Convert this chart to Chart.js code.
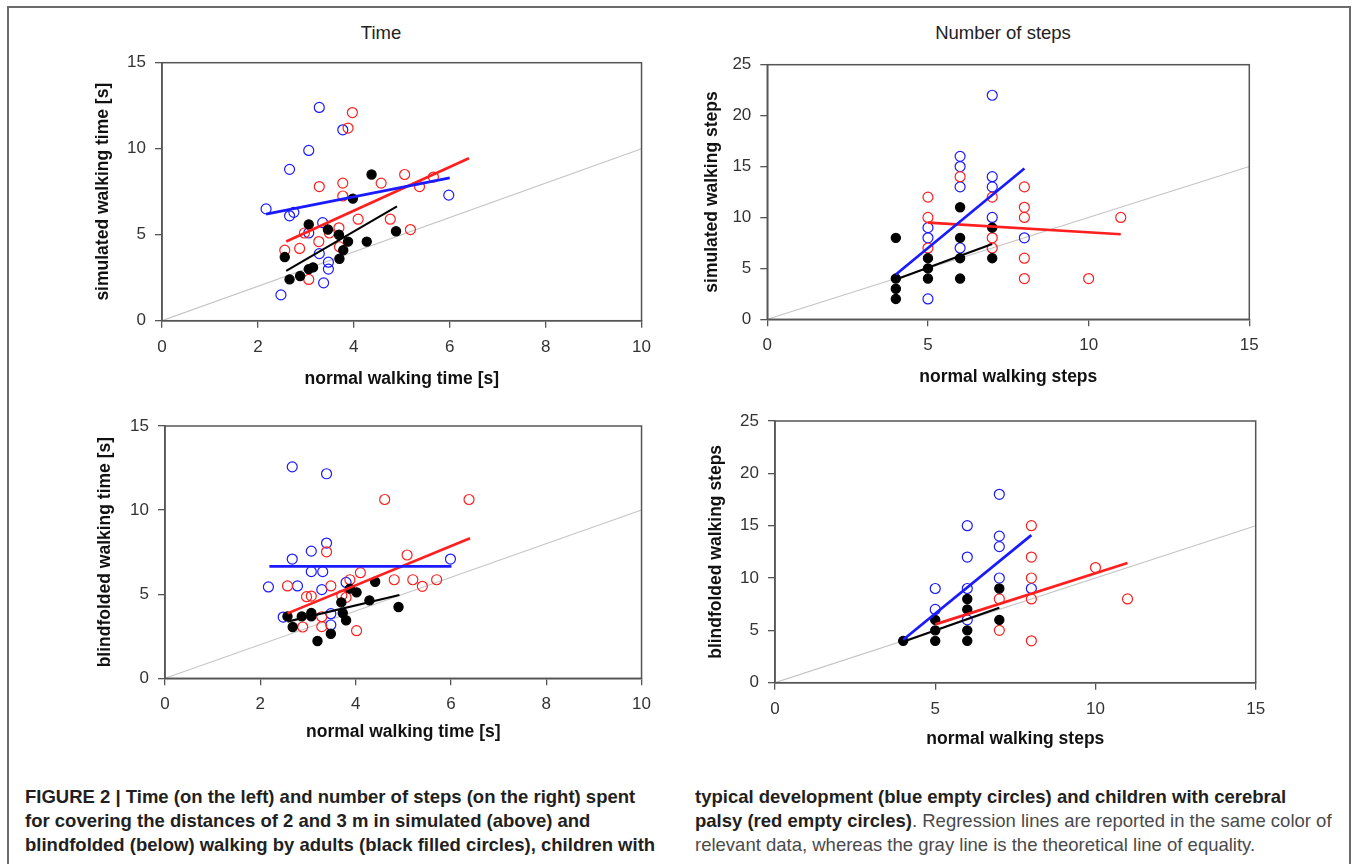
<!DOCTYPE html>
<html>
<head>
<meta charset="utf-8">
<script src="https://cdn.jsdelivr.net/npm/chart.js@4.4.1/dist/chart.umd.min.js"></script>
<style>
html, body { margin: 0; padding: 0; background: #fff; width: 1356px; height: 864px; overflow: hidden; font-family: "Liberation Sans", Arial, sans-serif; }
#frame { position: absolute; left: 7px; top: 6px; width: 1340px; height: 900px; border: 2px solid #6b6b6b; }
canvas { position: absolute; }
.ptitle { position: absolute; top: 23px; font-size: 18.5px; line-height: 20px; color: #222; transform: translateX(-50%); white-space: nowrap; }
.cap { position: absolute; top: 785px; font-size: 18.5px; line-height: 24px; white-space: nowrap; color: #4a4a4a; }
.cap b { color: #231f20; }
</style>
</head>
<body>
<div id="frame"></div>
<div class="ptitle" style="left:381px">Time</div>
<div class="ptitle" style="left:1003px">Number of steps</div>

<canvas id="simTime"></canvas>
<canvas id="simSteps"></canvas>
<canvas id="blindTime"></canvas>
<canvas id="blindSteps"></canvas>

<div class="cap" style="left:25px"><b>FIGURE 2 | Time (on the left) and number of steps (on the right) spent</b><br><b>for covering the distances of 2 and 3 m in simulated (above) and</b><br><b>blindfolded (below) walking by adults (black filled circles), children with</b></div>
<div class="cap" style="left:695px"><b>typical development (blue empty circles) and children with cerebral</b><br><b>palsy (red empty circles)</b>. Regression lines are reported in the same color of<br>relevant data, whereas the gray line is the theoretical line of equality.</div>

<script>
// tick labels
const timeTicksX = [0, 2, 4, 6, 8, 10];
const timeTicksY = [0, 5, 10, 15];
const stepTicksX = [0, 5, 10, 15];
const stepTicksY = [0, 5, 10, 15, 20, 25];

// line of equality
const equalTime = [[0, 0], [10, 10]];
const equalSteps = [[0, 0], [15, 15]];

// simulated walking time [s]: [normal, simulated]
const simTimeAdults = [[4.37, 8.5], [3.98, 7.1], [3.06, 5.6], [3.46, 5.3], [3.69, 5.0], [3.88, 4.6], [4.27, 4.6], [4.88, 5.2],
  [3.78, 4.1], [3.70, 3.6], [2.56, 3.7], [3.06, 3.0], [3.15, 3.1], [2.88, 2.6], [2.66, 2.4]];
const simTimeTD = [[3.28, 12.4], [3.77, 11.1], [3.06, 9.9], [2.66, 8.8], [2.17, 6.5], [2.66, 6.1], [2.75, 6.3], [5.98, 7.3],
  [3.35, 5.7], [3.06, 5.1], [3.28, 3.9], [3.47, 3.4], [3.47, 3.0], [3.37, 2.2], [2.48, 1.5]];
const simTimeCP = [[3.97, 12.1], [3.88, 11.2], [3.28, 7.8], [3.77, 8.0], [3.77, 7.25], [4.57, 8.0], [5.06, 8.5], [5.66, 8.35],
  [5.37, 7.8], [4.09, 5.9], [4.76, 5.9], [5.18, 5.3], [3.69, 5.4], [3.49, 5.1], [2.97, 5.1], [3.27, 4.6], [2.87, 4.2],
  [2.56, 4.1], [3.06, 2.4], [3.70, 4.3]];
const simTimeAdultsFit = [[2.59, 2.9], [4.9, 6.65]];
const simTimeTDFit = [[2.17, 6.2], [6.0, 8.3]];
const simTimeCPFit = [[2.59, 4.6], [6.4, 9.45]];

// simulated walking steps
const simStepsAdults = [[4, 8], [4, 4], [4, 3], [4, 2], [5, 6], [5, 5], [5, 4], [6, 11], [6, 8], [6, 6], [6, 4], [7, 9], [7, 6]];
const simStepsTD = [[7, 22], [6, 16], [6, 15], [6, 13], [7, 14], [7, 13], [7, 10], [5, 9], [5, 8], [6, 7], [8, 8], [5, 2]];
const simStepsCP = [[5, 12], [5, 10], [5, 7], [6, 14], [7, 12], [7, 8], [7, 7], [8, 13], [8, 11], [8, 10], [8, 6], [8, 4],
  [10, 4], [11, 10]];
const simStepsAdultsFit = [[4, 3.9], [7, 7.4]];
const simStepsTDFit = [[4, 4.4], [8, 14.8]];
const simStepsCPFit = [[5, 9.5], [11, 8.35]];

// blindfolded walking time [s]
const blindTimeAdults = [[4.41, 5.74], [4.02, 5.11], [3.88, 5.33], [4.29, 4.63], [3.70, 4.51], [4.90, 4.24], [2.57, 3.68],
  [2.87, 3.68], [3.07, 3.88], [3.07, 3.68], [3.73, 3.88], [3.80, 3.45], [2.68, 3.05], [3.48, 2.65], [3.20, 2.22]];
const blindTimeTD = [[2.67, 12.57], [3.39, 12.16], [3.39, 8.04], [3.07, 7.56], [2.67, 7.09], [5.99, 7.09], [3.07, 6.34],
  [3.31, 6.34], [2.17, 5.43], [2.78, 5.49], [3.29, 5.27], [3.80, 5.70], [2.48, 3.64], [3.48, 3.84], [3.48, 3.17]];
const blindTimeCP = [[4.61, 10.63], [6.38, 10.63], [3.39, 7.52], [5.08, 7.33], [4.10, 6.28], [3.88, 5.86], [4.81, 5.86],
  [5.20, 5.86], [5.70, 5.86], [5.40, 5.47], [2.57, 5.49], [3.48, 5.49], [2.97, 4.85], [3.07, 4.89], [3.71, 4.93],
  [3.80, 4.81], [3.29, 3.66], [2.89, 3.05], [3.29, 3.07], [4.02, 2.83]];
const blindTimeAdultsFit = [[2.57, 3.37], [4.92, 4.95]];
const blindTimeTDFit = [[2.19, 6.65], [6.01, 6.65]];
const blindTimeCPFit = [[2.57, 3.86], [6.4, 8.32]];

// blindfolded walking steps
const blindStepsAdults = [[4, 4], [5, 6], [5, 5], [5, 4], [6, 8], [6, 7], [6, 5], [6, 4], [7, 9], [7, 6]];
const blindStepsTD = [[7, 18], [6, 15], [7, 14], [7, 13], [6, 12], [7, 10], [5, 9], [6, 9], [8, 9], [5, 7], [6, 6]];
const blindStepsCP = [[8, 15], [8, 12], [8, 10], [10, 11], [7, 8], [8, 8], [11, 8], [7, 5], [8, 4]];
const blindStepsAdultsFit = [[4, 3.92], [7, 7.17]];
const blindStepsTDFit = [[4, 4.1], [8, 14.1]];
const blindStepsCPFit = [[5, 5.57], [11, 11.43]];

const FONT = '"Liberation Sans", Arial, sans-serif';
const BLUE = '#1a1aff';
const RED = '#ff1f1f';
const AXIS = '#555';

const toXY = pts => pts.map(([x, y]) => ({ x, y }));

function lineDs(pts, color, width) {
  return { data: toXY(pts), showLine: true, borderColor: color, borderWidth: width, pointRadius: 0, fill: false };
}
function dotDs(pts, color, filled) {
  return {
    data: toXY(pts), showLine: false, pointRadius: filled ? 4.6 : 5, borderWidth: 1.2,
    borderColor: color, backgroundColor: filled ? color : 'rgba(0,0,0,0)'
  };
}

// box around the plot area
const plotFrame = {
  id: 'plotFrame',
  afterDraw(chart) {
    const { ctx, chartArea: a } = chart;
    ctx.save();
    ctx.strokeStyle = AXIS;
    ctx.lineWidth = 1.5;
    ctx.strokeRect(a.left, a.top, a.right - a.left, a.bottom - a.top);
    ctx.restore();
  }
};

function axis(ticks, title, fitFn) {
  return {
    type: 'linear',
    min: ticks[0],
    max: ticks[ticks.length - 1],
    afterBuildTicks: s => { s.ticks = ticks.map(v => ({ value: v })); },
    afterFit: fitFn,
    grid: { drawOnChartArea: false, drawTicks: true, tickLength: 7, color: AXIS, lineWidth: 1.3 },
    border: { display: true, color: AXIS, width: 1.5 },
    ticks: { padding: 9, color: '#333', font: { size: 17, family: FONT }, maxRotation: 0, autoSkip: false },
    title: { display: true, text: title, color: '#111', padding: 0, font: { size: 17.5, weight: 'bold', family: FONT } }
  };
}

function makePanel(id, box, area, xTicks, yTicks, xTitle, yTitle, equal, adults, td, cp, adultsFit, tdFit, cpFit) {
  const cv = document.getElementById(id);
  cv.width = box.w;
  cv.height = box.h;
  cv.style.left = box.x + 'px';
  cv.style.top = box.y + 'px';
  const yW = area.l - box.x;
  const xH = box.y + box.h - area.b;
  return new Chart(cv, {
    type: 'scatter',
    data: {
      datasets: [
        lineDs(tdFit, BLUE, 2.7),
        lineDs(cpFit, RED, 2.7),
        lineDs(adultsFit, '#000', 2.1),
        dotDs(adults, '#000', true),
        dotDs(cp, RED, false),
        dotDs(td, BLUE, false),
        lineDs(equal, '#c4c4c4', 1.1)
      ]
    },
    options: {
      responsive: false,
      animation: false,
      layout: { padding: { left: 0, top: area.t - box.y, right: box.x + box.w - area.r, bottom: 0 } },
      plugins: { legend: { display: false }, tooltip: { enabled: false } },
      scales: {
        x: axis(xTicks, xTitle, s => { s.height = xH; }),
        y: axis(yTicks, yTitle, s => { s.width = yW; })
      }
    },
    plugins: [plotFrame]
  });
}

makePanel('simTime', { x: 93, y: 40, w: 567, h: 350 }, { l: 162, t: 62.7, r: 642, b: 320.7 },
  timeTicksX, timeTicksY, 'normal walking time [s]', 'simulated walking time [s]', equalTime,
  simTimeAdults, simTimeTD, simTimeCP, simTimeAdultsFit, simTimeTDFit, simTimeCPFit);

makePanel('simSteps', { x: 702, y: 40, w: 573, h: 348 }, { l: 767.3, t: 64.7, r: 1249.3, b: 319.3 },
  stepTicksX, stepTicksY, 'normal walking steps', 'simulated walking steps', equalSteps,
  simStepsAdults, simStepsTD, simStepsCP, simStepsAdultsFit, simStepsTDFit, simStepsCPFit);

makePanel('blindTime', { x: 95, y: 400, w: 565, h: 343 }, { l: 165, t: 426, r: 641.7, b: 678.3 },
  timeTicksX, timeTicksY, 'normal walking time [s]', 'blindfolded walking time [s]', equalTime,
  blindTimeAdults, blindTimeTD, blindTimeCP, blindTimeAdultsFit, blindTimeTDFit, blindTimeCPFit);

makePanel('blindSteps', { x: 706, y: 400, w: 574, h: 350 }, { l: 775, t: 421, r: 1255.7, b: 682.7 },
  stepTicksX, stepTicksY, 'normal walking steps', 'blindfolded walking steps', equalSteps,
  blindStepsAdults, blindStepsTD, blindStepsCP, blindStepsAdultsFit, blindStepsTDFit, blindStepsCPFit);
</script>
</body>
</html>
